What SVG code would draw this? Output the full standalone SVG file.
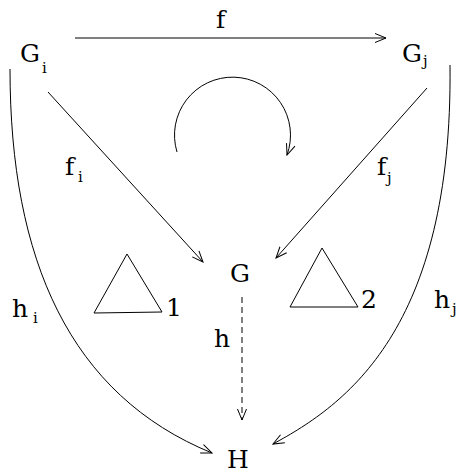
<svg xmlns="http://www.w3.org/2000/svg" width="456" height="474" viewBox="0 0 456 474">
<style>
.t{font-size:25px;fill:#000}
.s{font-size:15px;fill:#000}
.e{fill:none;stroke:#000;stroke-width:1}
</style>
<defs>
<marker id="ah" markerUnits="userSpaceOnUse" markerWidth="14" markerHeight="12" refX="0" refY="0" viewBox="-12 -6 14 12" orient="auto" overflow="visible">
<path d="M-11,-4.5 L0,0 L-11,4.5" fill="none" stroke="#000" stroke-width="1"/>
</marker>
</defs>
<rect width="456" height="474" fill="#fff"/>
<g id="connectors">
<path class="e" d="M75,38 L386,38" marker-end="url(#ah)"/>
<path class="e" d="M48,92 L203,262" marker-end="url(#ah)"/>
<path class="e" d="M427,88 L276,258" marker-end="url(#ah)"/>
<path class="e" d="M242,297 L242,420" stroke-dasharray="6,4" marker-end="url(#ah)"/>
<path class="e" d="M10,69 C10,260 70,395 212,453" marker-end="url(#ah)"/>
<path class="e" d="M450,65 C453,330 345,405 273,444" marker-end="url(#ah)"/>
<path class="e" d="M177,152 A58,58 0 1 1 287,155" marker-end="url(#ah)"/>
</g>
<g font-family="DejaVu Serif">
<g id="Gi"><text class="t" x="20" y="62">G</text><text class="s" x="42" y="73">i</text></g>
<g id="Gj"><text class="t" x="402" y="62">G</text><text class="s" x="423" y="66">j</text></g>
<g id="G"><text class="t" x="230" y="282">G</text></g>
<g id="H"><text class="t" x="227" y="468">H</text></g>
<g id="label-f"><text class="t" x="216" y="28">f</text></g>
<g id="label-fi"><text class="t" x="65" y="175">f</text><text class="s" x="78" y="182">i</text></g>
<g id="label-fj"><text class="t" x="377" y="175">f</text><text class="s" x="387" y="183">j</text></g>
<g id="label-h"><text class="t" x="214" y="347">h</text></g>
<g id="label-hi"><text class="t" x="12" y="317">h</text><text class="s" x="33" y="323">i</text></g>
<g id="label-hj"><text class="t" x="434" y="308">h</text><text class="s" x="452" y="314">j</text></g>
<g id="tri1"><path class="e" d="M127,254 L94,313 L162,312 Z"/><text class="t" x="166" y="316">1</text></g>
<g id="tri2"><path class="e" d="M322,248 L290,307 L358,307 Z"/><text class="t" x="361" y="308">2</text></g>
</g>
</svg>
